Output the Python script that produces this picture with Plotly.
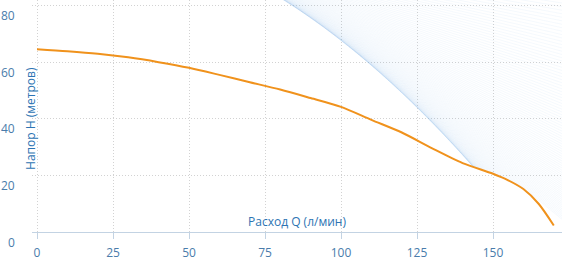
import numpy as np
import plotly.graph_objects as go

# Pump curve (flow Q in l/min, head H in m)
flow_q = [0, 10, 20, 30, 40, 50, 60, 70, 80, 90, 100, 110, 120, 130, 140, 150, 155, 160, 165, 170]
head_h = [64.7, 64.0, 63.1, 61.8, 60.1, 58.1, 55.6, 53.0, 50.4, 47.4, 44.3, 39.7, 35.2, 29.6, 24.4, 20.6, 18.3, 15.2, 10.0, 2.3]

# Decorative fan (light blue hatching): its left envelope
env_q = [20, 40, 60, 80, 90, 100, 110, 113, 118, 125, 133, 142]
env_h = [107.8, 102.6, 94.0, 82.0, 75.0, 68.4, 60.5, 57.0, 52.0, 43.4, 34.0, 25.0]
fan_q = np.linspace(5, 142, 140)

x_ticks = [0, 25, 50, 75, 100, 125, 150]
y_ticks = [0, 20, 40, 60, 80]
x_title = "Расход Q (л/мин)"
y_title = "Напор H (метров)"

X_RANGE = [-1.65, 172.7]
Y_RANGE = [0, 82.1]

tick_color = "#4a7cab"
title_color = "#2d74b3"
font_family = "Open Sans, DejaVu Sans, sans-serif"

fig = go.Figure()

# smooth envelope through the read points; each fan line starts on it, tangent, going right
env_poly = np.polyfit(env_q, env_h, 2)
env_der = np.polyder(env_poly)
grid = np.linspace(0, 180, 3601)
orange_on_grid = np.interp(grid, flow_q, head_h)
fx, fy = [], []
for q in fan_q:
    h = float(np.polyval(env_poly, q))
    s = float(np.polyval(env_der, q))
    line = h + s * (grid - q)
    mask = (grid > q) & (line < orange_on_grid)
    x_end = float(grid[mask][0]) if mask.any() else 180.0
    fx += [q, x_end, None]
    fy += [h, h + s * (x_end - q), None]

fig.add_trace(go.Scatter(x=fx, y=fy, mode="lines",
                         line=dict(color="rgba(110,160,225,0.085)", width=0.8),
                         hoverinfo="skip", showlegend=False))

fig.add_trace(go.Scatter(x=flow_q, y=head_h, mode="lines",
                         line=dict(color="#f0921c", width=2, shape="spline", smoothing=0.8),
                         showlegend=False))

fig.update_xaxes(range=X_RANGE, tickvals=x_ticks, ticktext=[str(v) for v in x_ticks],
                 showgrid=True, gridcolor="#d2d2d2", griddash="1px,2px", gridwidth=1,
                 zeroline=False, showline=True, linecolor="#c3d3e3", linewidth=1,
                 ticks="outside", ticklen=6, tickcolor="#c3d3e3", ticklabelstandoff=4,
                 tickfont=dict(family=font_family, size=12, color=tick_color))
fig.update_yaxes(range=Y_RANGE, tickvals=y_ticks, showticklabels=False,
                 showgrid=True, gridcolor="#d2d2d2", griddash="1px,2px", gridwidth=1,
                 zeroline=False, showline=False)

for v in y_ticks:
    fig.add_annotation(x=0, xref="paper", y=v, yref="y", text=str(v), showarrow=False,
                       xanchor="right", yanchor="middle", xshift=-15, yshift=-10,
                       font=dict(family=font_family, size=12, color=tick_color))

fig.add_annotation(x=0, xref="paper", y=0.4875, yref="paper", text=y_title, showarrow=False,
                   textangle=-90, xanchor="center", yanchor="middle", xshift=-1,
                   font=dict(family=font_family, size=12, color=title_color))
fig.add_annotation(x=0.5, xref="paper", y=0, yref="paper", text=x_title, showarrow=False,
                   xanchor="center", yanchor="bottom", yshift=0,
                   font=dict(family=font_family, size=12, color=title_color))

fig.update_layout(width=562, height=261, margin=dict(l=32, r=0, t=0, b=21),
                  paper_bgcolor="white", plot_bgcolor="white", showlegend=False)

fig.write_html("out.html")
